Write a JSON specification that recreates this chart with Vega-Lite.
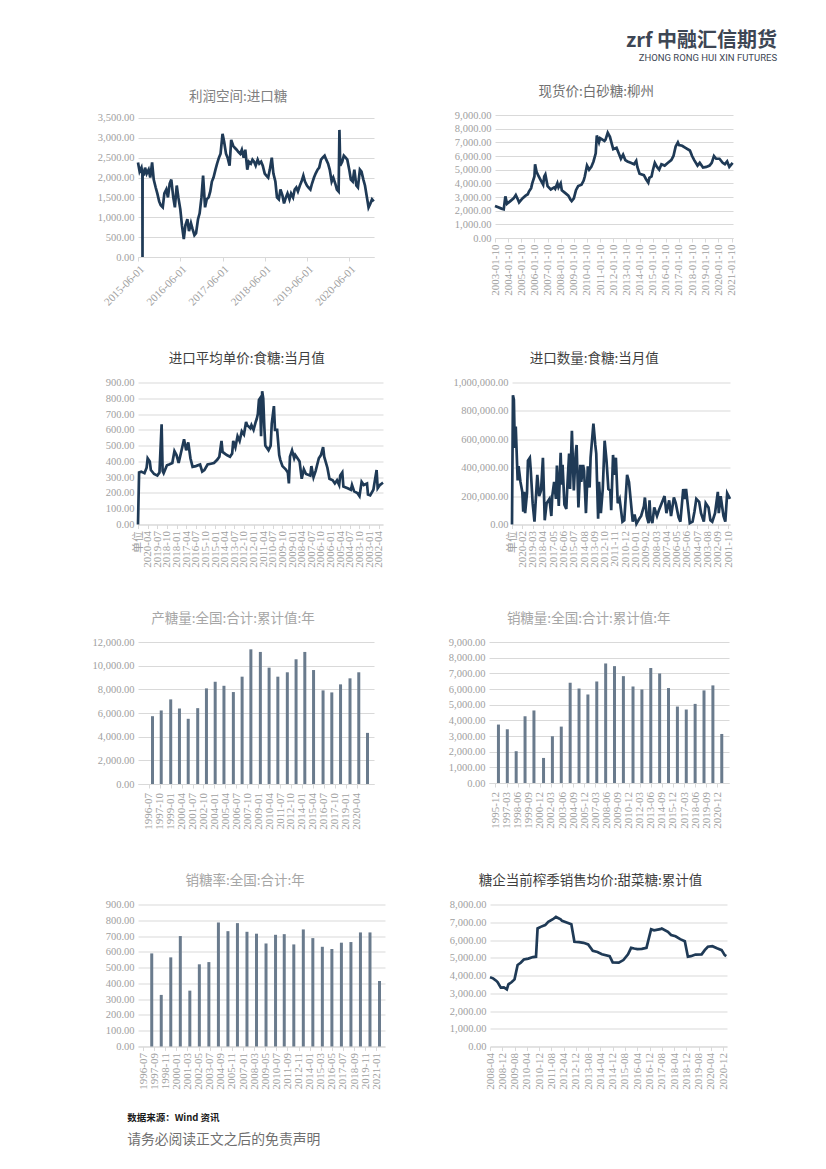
{
"$schema": "https://vega.github.io/schema/vega-lite/v6.json",
"padding": {"left": 92, "top": 30, "right": 0, "bottom": 0},
"title": {"text": "zrf 中融汇信期货", "subtitle": "ZHONG RONG HUI XIN FUTURES", "anchor": "end", "frame": "bounds", "dx": 39, "offset": 22.5, "fontSize": 20, "color": "#3d4654", "font": "Noto Sans CJK SC", "fontWeight": "bold", "subtitleFont": "Roboto", "subtitleFontSize": 9.5, "subtitleColor": "#3d4654", "subtitlePadding": 2},
"spacing": 43.5,
"datasets": {
"p1": [
{"d":"2015-06-01","v":2380},{"d":"2015-06-15","v":2150},{"d":"2015-07-01","v":2250},{"d":"2015-07-09","v":2100},{"d":"2015-07-10","v":0},{"d":"2015-07-11","v":2200},{"d":"2015-07-20","v":2050},{"d":"2015-08-01","v":2250},{"d":"2015-08-15","v":2100},{"d":"2015-09-01","v":2200},{"d":"2015-09-15","v":2000},{"d":"2015-10-01","v":2380},{"d":"2015-10-15","v":1950},{"d":"2015-11-01","v":1750},{"d":"2015-11-15","v":1600},{"d":"2015-12-01","v":1400},{"d":"2015-12-15","v":1300},
{"d":"2016-01-01","v":1250},{"d":"2016-01-15","v":1600},{"d":"2016-02-01","v":1700},{"d":"2016-02-15","v":1500},{"d":"2016-03-01","v":1850},{"d":"2016-03-15","v":1950},{"d":"2016-04-01","v":1500},{"d":"2016-04-15","v":1250},{"d":"2016-05-01","v":1800},{"d":"2016-05-15","v":1500},{"d":"2016-06-01","v":1200},{"d":"2016-06-15","v":800},{"d":"2016-07-01","v":450},{"d":"2016-07-15","v":800},{"d":"2016-08-01","v":950},{"d":"2016-08-15","v":650},{"d":"2016-09-01","v":850},{"d":"2016-09-15","v":700},{"d":"2016-10-01","v":550},{"d":"2016-10-15","v":600},{"d":"2016-11-01","v":950},{"d":"2016-11-15","v":1100},{"d":"2016-12-01","v":1500},{"d":"2016-12-15","v":2050},
{"d":"2017-01-01","v":1250},{"d":"2017-01-15","v":1450},{"d":"2017-02-01","v":1500},{"d":"2017-02-15","v":1650},{"d":"2017-03-01","v":1900},{"d":"2017-03-15","v":2000},{"d":"2017-04-01","v":2200},{"d":"2017-04-15","v":2350},{"d":"2017-05-01","v":2500},{"d":"2017-05-15","v":2600},{"d":"2017-06-01","v":3100},{"d":"2017-06-15","v":2900},{"d":"2017-07-01","v":2600},{"d":"2017-07-15","v":2500},{"d":"2017-08-01","v":2300},{"d":"2017-08-15","v":2950},{"d":"2017-09-01","v":2800},{"d":"2017-09-15","v":2750},{"d":"2017-10-01","v":2700},{"d":"2017-10-15","v":2650},{"d":"2017-11-01","v":2600},{"d":"2017-11-15","v":2700},{"d":"2017-12-01","v":2500},{"d":"2017-12-15","v":2700},
{"d":"2018-01-01","v":2200},{"d":"2018-01-15","v":2400},{"d":"2018-02-01","v":2350},{"d":"2018-02-15","v":2450},{"d":"2018-03-01","v":2400},{"d":"2018-03-15","v":2300},{"d":"2018-04-01","v":2450},{"d":"2018-04-15","v":2350},{"d":"2018-05-01","v":2400},{"d":"2018-05-15","v":2300},{"d":"2018-06-01","v":2100},{"d":"2018-06-15","v":2050},{"d":"2018-07-01","v":2000},{"d":"2018-07-15","v":2200},{"d":"2018-08-01","v":2500},{"d":"2018-08-15","v":2100},{"d":"2018-09-01","v":1900},{"d":"2018-09-15","v":1500},{"d":"2018-10-01","v":1450},{"d":"2018-10-15","v":1700},{"d":"2018-11-01","v":1550},{"d":"2018-11-15","v":1350},{"d":"2018-12-01","v":1500},{"d":"2018-12-15","v":1600},
{"d":"2019-01-01","v":1450},{"d":"2019-01-15","v":1600},{"d":"2019-02-01","v":1500},{"d":"2019-02-15","v":1700},{"d":"2019-03-01","v":1750},{"d":"2019-03-15","v":1650},{"d":"2019-04-01","v":1800},{"d":"2019-04-15","v":1900},{"d":"2019-05-01","v":2050},{"d":"2019-05-15","v":1900},{"d":"2019-06-01","v":1800},{"d":"2019-06-15","v":1750},{"d":"2019-07-01","v":1700},{"d":"2019-07-15","v":1850},{"d":"2019-08-01","v":2000},{"d":"2019-08-15","v":2100},{"d":"2019-09-01","v":2200},{"d":"2019-09-15","v":2250},{"d":"2019-10-01","v":2450},{"d":"2019-10-15","v":2500},{"d":"2019-11-01","v":2550},{"d":"2019-11-15","v":2450},{"d":"2019-12-01","v":2350},{"d":"2019-12-15","v":2200},
{"d":"2020-01-01","v":1900},{"d":"2020-01-15","v":2000},{"d":"2020-02-01","v":1850},{"d":"2020-02-15","v":1700},{"d":"2020-03-01","v":1650},{"d":"2020-03-08","v":3200},{"d":"2020-03-15","v":2300},{"d":"2020-04-01","v":2400},{"d":"2020-04-15","v":2550},{"d":"2020-05-01","v":2500},{"d":"2020-05-15","v":2450},{"d":"2020-06-01","v":2200},{"d":"2020-06-15","v":1950},{"d":"2020-07-01","v":1900},{"d":"2020-07-15","v":2200},{"d":"2020-08-01","v":1800},{"d":"2020-08-15","v":1750},{"d":"2020-09-01","v":2200},{"d":"2020-09-15","v":2150},{"d":"2020-10-01","v":1950},{"d":"2020-10-15","v":1800},{"d":"2020-11-01","v":1500},{"d":"2020-11-15","v":1250},{"d":"2020-12-01","v":1350},{"d":"2020-12-15","v":1450},{"d":"2020-12-30","v":1400}
],
"p2": [
{"d":"2003-01-10","v":2350},{"d":"2003-04-10","v":2250},{"d":"2003-07-10","v":2150},{"d":"2003-09-10","v":2100},{"d":"2003-10-25","v":3050},{"d":"2003-12-10","v":2500},{"d":"2004-03-10","v":2700},{"d":"2004-06-10","v":2900},{"d":"2004-08-10","v":3150},{"d":"2004-10-10","v":2800},{"d":"2004-11-10","v":2600},{"d":"2005-02-10","v":2900},{"d":"2005-05-10","v":3100},{"d":"2005-07-10","v":3200},{"d":"2005-08-10","v":3400},{"d":"2005-10-10","v":3650},{"d":"2005-11-10","v":4000},{"d":"2006-01-10","v":4500},{"d":"2006-01-28","v":5400},{"d":"2006-03-10","v":4850},{"d":"2006-05-10","v":4500},{"d":"2006-07-10","v":4200},{"d":"2006-09-10","v":3900},{"d":"2006-10-10","v":4500},{"d":"2006-11-10","v":4650},{"d":"2007-01-10","v":3800},{"d":"2007-04-10","v":3550},{"d":"2007-07-10","v":3700},{"d":"2007-08-10","v":3600},{"d":"2007-10-10","v":4000},{"d":"2007-11-10","v":3700},{"d":"2008-01-10","v":4000},{"d":"2008-02-10","v":3500},{"d":"2008-05-10","v":3300},{"d":"2008-08-10","v":3100},{"d":"2008-10-10","v":2800},{"d":"2008-11-10","v":2700},{"d":"2009-01-10","v":2900},{"d":"2009-03-10","v":3500},{"d":"2009-05-10","v":3800},{"d":"2009-08-10","v":3900},{"d":"2009-10-10","v":4200},{"d":"2009-11-10","v":4500},{"d":"2010-01-10","v":5300},{"d":"2010-03-10","v":5000},{"d":"2010-05-10","v":5200},{"d":"2010-07-10","v":5600},{"d":"2010-09-10","v":6200},{"d":"2010-10-10","v":7500},{"d":"2010-12-10","v":7000},{"d":"2011-01-10","v":7300},{"d":"2011-05-10","v":7100},{"d":"2011-06-10","v":7200},{"d":"2011-08-10","v":7700},{"d":"2011-10-10","v":7400},{"d":"2011-12-10","v":6800},{"d":"2012-01-10","v":6500},{"d":"2012-04-10","v":6600},{"d":"2012-06-10","v":6200},{"d":"2012-08-10","v":5800},{"d":"2012-10-10","v":6100},{"d":"2012-12-10","v":5700},{"d":"2013-02-10","v":5600},{"d":"2013-05-10","v":5500},{"d":"2013-08-10","v":5400},{"d":"2013-10-10","v":5650},{"d":"2013-11-10","v":5200},{"d":"2014-01-10","v":4700},{"d":"2014-05-10","v":4600},{"d":"2014-07-10","v":4300},{"d":"2014-09-10","v":4050},{"d":"2014-10-10","v":4400},{"d":"2014-12-10","v":4500},{"d":"2015-01-10","v":4900},{"d":"2015-03-10","v":5500},{"d":"2015-05-10","v":5200},{"d":"2015-07-10","v":5000},{"d":"2015-09-10","v":5400},{"d":"2015-12-10","v":5300},{"d":"2016-03-10","v":5500},{"d":"2016-06-10","v":5700},{"d":"2016-08-10","v":6000},{"d":"2016-10-10","v":6700},{"d":"2016-12-10","v":7000},{"d":"2017-01-10","v":6800},{"d":"2017-04-10","v":6750},{"d":"2017-07-10","v":6600},{"d":"2017-11-10","v":6400},{"d":"2018-01-10","v":6000},{"d":"2018-03-10","v":5700},{"d":"2018-06-10","v":5300},{"d":"2018-08-10","v":5500},{"d":"2018-11-10","v":5150},{"d":"2019-02-10","v":5200},{"d":"2019-05-10","v":5300},{"d":"2019-07-10","v":5500},{"d":"2019-09-10","v":6000},{"d":"2019-11-10","v":5800},{"d":"2020-02-10","v":5800},{"d":"2020-05-10","v":5500},{"d":"2020-07-10","v":5400},{"d":"2020-09-10","v":5600},{"d":"2020-11-10","v":5200},{"d":"2021-02-10","v":5500}
],
"p3": [
{"d":"2021-01-01","v":0},{"d":"2020-12-01","v":330},{"d":"2020-10-01","v":335},{"d":"2020-07-01","v":325},{"d":"2020-05-01","v":360},{"d":"2020-04-01","v":420},{"d":"2020-02-01","v":400},{"d":"2020-01-01","v":345},{"d":"2019-10-01","v":320},{"d":"2019-07-01","v":310},{"d":"2019-05-01","v":330},{"d":"2019-03-01","v":635},{"d":"2019-02-01","v":340},{"d":"2019-01-01","v":325},{"d":"2018-10-01","v":375},{"d":"2018-08-01","v":380},{"d":"2018-05-01","v":390},{"d":"2018-03-01","v":465},{"d":"2018-01-01","v":440},{"d":"2017-11-01","v":390},{"d":"2017-09-01","v":450},{"d":"2017-07-01","v":510},{"d":"2017-06-01","v":540},{"d":"2017-04-01","v":470},{"d":"2017-02-01","v":520},{"d":"2016-12-01","v":420},{"d":"2016-10-01","v":365},{"d":"2016-07-01","v":370},{"d":"2016-03-01","v":380},{"d":"2016-01-01","v":335},{"d":"2015-11-01","v":345},{"d":"2015-08-01","v":380},{"d":"2015-05-01","v":385},{"d":"2015-02-01","v":390},{"d":"2014-11-01","v":410},{"d":"2014-09-01","v":430},{"d":"2014-07-01","v":530},{"d":"2014-06-01","v":460},{"d":"2014-02-01","v":440},{"d":"2013-11-01","v":430},{"d":"2013-09-01","v":450},{"d":"2013-08-01","v":530},{"d":"2013-06-01","v":490},{"d":"2013-04-01","v":560},{"d":"2013-02-01","v":530},{"d":"2012-12-01","v":590},{"d":"2012-10-01","v":570},{"d":"2012-08-01","v":650},{"d":"2012-07-01","v":630},{"d":"2012-04-01","v":610},{"d":"2012-03-01","v":630},{"d":"2012-01-01","v":600},{"d":"2011-11-01","v":650},{"d":"2011-10-01","v":670},{"d":"2011-09-01","v":700},{"d":"2011-08-01","v":790},{"d":"2011-07-01","v":800},{"d":"2011-06-01","v":560},{"d":"2011-05-01","v":845},{"d":"2011-04-01","v":800},{"d":"2011-03-01","v":620},{"d":"2011-02-01","v":500},{"d":"2010-12-01","v":480},{"d":"2010-11-01","v":470},{"d":"2010-09-01","v":500},{"d":"2010-08-01","v":640},{"d":"2010-06-01","v":750},{"d":"2010-05-01","v":600},{"d":"2010-03-01","v":600},{"d":"2010-01-01","v":440},{"d":"2009-12-01","v":410},{"d":"2009-10-01","v":370},{"d":"2009-07-01","v":350},{"d":"2009-05-01","v":330},{"d":"2009-04-01","v":260},{"d":"2009-03-01","v":430},{"d":"2009-01-01","v":470},{"d":"2008-11-01","v":420},{"d":"2008-10-01","v":440},{"d":"2008-07-01","v":410},{"d":"2008-06-01","v":400},{"d":"2008-04-01","v":290},{"d":"2008-02-01","v":350},{"d":"2007-12-01","v":320},{"d":"2007-08-01","v":310},{"d":"2007-07-01","v":370},{"d":"2007-05-01","v":300},{"d":"2007-03-01","v":340},{"d":"2006-12-01","v":420},{"d":"2006-10-01","v":440},{"d":"2006-08-01","v":490},{"d":"2006-07-01","v":430},{"d":"2006-04-01","v":360},{"d":"2006-02-01","v":290},{"d":"2005-11-01","v":280},{"d":"2005-09-01","v":260},{"d":"2005-07-01","v":280},{"d":"2005-05-01","v":250},{"d":"2005-04-01","v":310},{"d":"2005-02-01","v":330},{"d":"2005-01-01","v":240},{"d":"2004-09-01","v":230},{"d":"2004-06-01","v":220},{"d":"2004-05-01","v":250},{"d":"2004-03-01","v":210},{"d":"2003-12-01","v":200},{"d":"2003-10-01","v":180},{"d":"2003-08-01","v":270},{"d":"2003-06-01","v":250},{"d":"2003-03-01","v":260},{"d":"2003-02-01","v":190},{"d":"2002-12-01","v":185},{"d":"2002-09-01","v":220},{"d":"2002-06-01","v":345},{"d":"2002-05-01","v":230},{"d":"2002-03-01","v":250},{"d":"2002-01-01","v":260},{"d":"2001-12-01","v":265}
],
"p4": [
{"d":"2021-01-01","v":0},{"d":"2020-12-01","v":910000},{"d":"2020-11-01","v":880000},{"d":"2020-10-01","v":540000},{"d":"2020-09-01","v":690000},{"d":"2020-07-01","v":310000},{"d":"2020-06-01","v":410000},{"d":"2020-04-01","v":300000},{"d":"2020-02-01","v":230000},{"d":"2020-01-01","v":90000},{"d":"2019-12-01","v":230000},{"d":"2019-11-01","v":80000},{"d":"2019-09-01","v":220000},{"d":"2019-08-01","v":450000},{"d":"2019-06-01","v":470000},{"d":"2019-05-01","v":380000},{"d":"2019-03-01","v":150000},{"d":"2019-01-01","v":20000},{"d":"2018-10-01","v":350000},{"d":"2018-08-01","v":200000},{"d":"2018-06-01","v":240000},{"d":"2018-04-01","v":470000},{"d":"2018-02-01","v":30000},{"d":"2017-12-01","v":150000},{"d":"2017-09-01","v":180000},{"d":"2017-07-01","v":60000},{"d":"2017-06-01","v":200000},{"d":"2017-04-01","v":300000},{"d":"2017-02-01","v":180000},{"d":"2017-01-01","v":415000},{"d":"2016-11-01","v":130000},{"d":"2016-09-01","v":505000},{"d":"2016-08-01","v":280000},{"d":"2016-07-01","v":420000},{"d":"2016-05-01","v":140000},{"d":"2016-03-01","v":110000},{"d":"2016-02-01","v":250000},{"d":"2015-12-01","v":500000},{"d":"2015-11-01","v":250000},{"d":"2015-09-01","v":660000},{"d":"2015-07-01","v":240000},{"d":"2015-05-01","v":500000},{"d":"2015-04-01","v":560000},{"d":"2015-02-01","v":120000},{"d":"2014-12-01","v":420000},{"d":"2014-11-01","v":300000},{"d":"2014-09-01","v":420000},{"d":"2014-08-01","v":380000},{"d":"2014-06-01","v":80000},{"d":"2014-04-01","v":410000},{"d":"2014-02-01","v":260000},{"d":"2014-01-01","v":470000},{"d":"2013-10-01","v":710000},{"d":"2013-08-01","v":560000},{"d":"2013-07-01","v":500000},{"d":"2013-05-01","v":40000},{"d":"2013-04-01","v":300000},{"d":"2013-02-01","v":80000},{"d":"2012-12-01","v":250000},{"d":"2012-10-01","v":590000},{"d":"2012-08-01","v":450000},{"d":"2012-06-01","v":250000},{"d":"2012-04-01","v":240000},{"d":"2012-03-01","v":100000},{"d":"2012-01-01","v":490000},{"d":"2011-12-01","v":350000},{"d":"2011-10-01","v":470000},{"d":"2011-08-01","v":150000},{"d":"2011-06-01","v":180000},{"d":"2011-03-01","v":20000},{"d":"2011-01-01","v":30000},{"d":"2010-10-01","v":350000},{"d":"2010-08-01","v":300000},{"d":"2010-04-01","v":20000},{"d":"2010-02-01","v":70000},{"d":"2009-12-01","v":5000},{"d":"2009-09-01","v":40000},{"d":"2009-07-01","v":60000},{"d":"2009-04-01","v":130000},{"d":"2009-03-01","v":190000},{"d":"2009-01-01","v":60000},{"d":"2008-11-01","v":10000},{"d":"2008-10-01","v":170000},{"d":"2008-09-01","v":50000},{"d":"2008-07-01","v":10000},{"d":"2008-05-01","v":120000},{"d":"2008-02-01","v":60000},{"d":"2007-12-01","v":100000},{"d":"2007-06-01","v":200000},{"d":"2007-04-01","v":80000},{"d":"2007-01-01","v":170000},{"d":"2006-11-01","v":60000},{"d":"2006-08-01","v":190000},{"d":"2006-06-01","v":150000},{"d":"2006-03-01","v":50000},{"d":"2006-01-01","v":20000},{"d":"2005-10-01","v":250000},{"d":"2005-08-01","v":180000},{"d":"2005-07-01","v":250000},{"d":"2005-05-01","v":130000},{"d":"2005-03-01","v":10000},{"d":"2004-12-01","v":20000},{"d":"2004-10-01","v":90000},{"d":"2004-08-01","v":180000},{"d":"2004-05-01","v":160000},{"d":"2004-03-01","v":80000},{"d":"2003-12-01","v":20000},{"d":"2003-10-01","v":150000},{"d":"2003-07-01","v":120000},{"d":"2003-05-01","v":30000},{"d":"2003-03-01","v":20000},{"d":"2002-12-01","v":80000},{"d":"2002-09-01","v":230000},{"d":"2002-08-01","v":80000},{"d":"2002-06-01","v":200000},{"d":"2002-03-01","v":60000},{"d":"2002-01-01","v":20000},{"d":"2001-11-01","v":220000},{"d":"2001-08-01","v":180000}
],
"p5": [
{"d":"1996-12-01","v":5730},{"d":"1997-12-01","v":6215},{"d":"1999-01-01","v":7150},{"d":"2000-01-01","v":6380},{"d":"2001-01-01","v":5510},{"d":"2002-02-01","v":6410},{"d":"2003-02-01","v":8080},{"d":"2004-02-01","v":8640},{"d":"2005-02-01","v":8300},{"d":"2006-03-01","v":7770},{"d":"2007-03-01","v":9070},{"d":"2008-03-01","v":11380},{"d":"2009-04-01","v":11160},{"d":"2010-04-01","v":9830},{"d":"2011-04-01","v":9070},{"d":"2012-05-01","v":9440},{"d":"2013-05-01","v":10540},{"d":"2014-05-01","v":11160},{"d":"2015-05-01","v":9630},{"d":"2016-06-01","v":7910},{"d":"2017-06-01","v":7740},{"d":"2018-06-01","v":8420},{"d":"2019-07-01","v":8930},{"d":"2020-07-01","v":9440},{"d":"2021-07-01","v":4320}
],
"p6": [
{"d":"1996-04-01","v":3730},{"d":"1997-04-01","v":3430},{"d":"1998-04-01","v":2030},{"d":"1999-04-01","v":4260},{"d":"2000-04-01","v":4630},{"d":"2001-05-01","v":1600},{"d":"2002-05-01","v":2990},{"d":"2003-05-01","v":3600},{"d":"2004-05-01","v":6400},{"d":"2005-05-01","v":6030},{"d":"2006-05-01","v":5650},{"d":"2007-05-01","v":6480},{"d":"2008-05-01","v":7630},{"d":"2009-05-01","v":7460},{"d":"2010-05-01","v":6820},{"d":"2011-06-01","v":6160},{"d":"2012-06-01","v":5970},{"d":"2013-06-01","v":7340},{"d":"2014-06-01","v":6990},{"d":"2015-06-01","v":6060},{"d":"2016-06-01","v":4880},{"d":"2017-06-01","v":4690},{"d":"2018-06-01","v":5050},{"d":"2019-06-01","v":5910},{"d":"2020-06-01","v":6230},{"d":"2021-06-01","v":3130}
],
"p7": [
{"d":"1997-06-01","v":590},{"d":"1998-06-01","v":327},{"d":"1999-06-01","v":565},{"d":"2000-06-01","v":700},{"d":"2001-06-01","v":354},{"d":"2002-06-01","v":521},{"d":"2003-06-01","v":535},{"d":"2004-06-01","v":786},{"d":"2005-06-01","v":731},{"d":"2006-06-01","v":782},{"d":"2007-06-01","v":727},{"d":"2008-06-01","v":715},{"d":"2009-06-01","v":653},{"d":"2010-06-01","v":708},{"d":"2011-05-01","v":712},{"d":"2012-05-01","v":647},{"d":"2013-05-01","v":742},{"d":"2014-05-01","v":687},{"d":"2015-05-01","v":632},{"d":"2016-05-01","v":618},{"d":"2017-05-01","v":658},{"d":"2018-05-01","v":662},{"d":"2019-05-01","v":723},{"d":"2020-05-01","v":723},{"d":"2021-05-01","v":415}
],
"p8": [
{"d":"2008-04-01","v":3900},{"d":"2008-06-01","v":3840},{"d":"2008-08-01","v":3710},{"d":"2008-09-01","v":3620},{"d":"2008-11-01","v":3320},{"d":"2009-01-01","v":3330},{"d":"2009-03-01","v":3220},{"d":"2009-04-01","v":3500},{"d":"2009-06-01","v":3620},{"d":"2009-08-01","v":3780},{"d":"2009-10-01","v":4590},{"d":"2009-12-01","v":4720},{"d":"2010-02-01","v":4900},{"d":"2010-05-01","v":4950},{"d":"2010-08-01","v":5040},{"d":"2010-10-01","v":5060},{"d":"2010-11-01","v":6650},{"d":"2011-01-01","v":6740},{"d":"2011-04-01","v":6840},{"d":"2011-06-01","v":7020},{"d":"2011-09-01","v":7170},{"d":"2011-11-01","v":7300},{"d":"2012-02-01","v":7170},{"d":"2012-03-01","v":7080},{"d":"2012-06-01","v":6990},{"d":"2012-09-01","v":6890},{"d":"2012-11-01","v":5900},{"d":"2013-02-01","v":5880},{"d":"2013-05-01","v":5840},{"d":"2013-08-01","v":5750},{"d":"2013-11-01","v":5390},{"d":"2014-02-01","v":5320},{"d":"2014-05-01","v":5200},{"d":"2014-10-01","v":5090},{"d":"2014-12-01","v":4740},{"d":"2015-04-01","v":4720},{"d":"2015-07-01","v":4870},{"d":"2015-10-01","v":5190},{"d":"2015-12-01","v":5560},{"d":"2016-02-01","v":5520},{"d":"2016-04-01","v":5490},{"d":"2016-07-01","v":5500},{"d":"2016-10-01","v":5560},{"d":"2017-01-01","v":6610},{"d":"2017-03-01","v":6550},{"d":"2017-07-01","v":6610},{"d":"2017-08-01","v":6650},{"d":"2017-12-01","v":6460},{"d":"2018-02-01","v":6280},{"d":"2018-05-01","v":6210},{"d":"2018-08-01","v":6050},{"d":"2018-11-01","v":5930},{"d":"2019-01-01","v":5060},{"d":"2019-03-01","v":5090},{"d":"2019-06-01","v":5180},{"d":"2019-10-01","v":5190},{"d":"2019-12-01","v":5430},{"d":"2020-02-01","v":5620},{"d":"2020-05-01","v":5650},{"d":"2020-08-01","v":5530},{"d":"2020-11-01","v":5430},{"d":"2021-01-01","v":5150},{"d":"2021-02-01","v":5090}
]
},
"vconcat": [
{
"spacing": 74,
"hconcat": [
{
"width": 236, "height": 142,
"title": {"text": "利润空间:进口糖", "color": "#808080", "dy": 3},
"data": {"name": "p1"},
"mark": {"type": "line", "color": "#1f3a56", "strokeWidth": 2.7},
"encoding": {
"x": {"field": "d", "type": "temporal", "title": null,
"scale": {"nice": false, "domain": [{"year":2015,"month":6,"date":1,"utc":true},{"year":2021,"month":1,"date":1,"utc":true}]},
"axis": {"labelAngle": -45, "labelExpr": "utcFormat(datum.value, '%Y-%m-%d')", "values": [{"year":2015,"month":6,"date":1,"utc":true},{"year":2016,"month":6,"date":1,"utc":true},{"year":2017,"month":6,"date":1,"utc":true},{"year":2018,"month":6,"date":1,"utc":true},{"year":2019,"month":6,"date":1,"utc":true},{"year":2020,"month":6,"date":1,"utc":true}]}},
"y": {"field": "v", "type": "quantitative", "title": null, "scale": {"domain": [0, 3575], "nice": false},
"axis": {"values": [0,500,1000,1500,2000,2500,3000,3500], "format": ",.2f"}}
}
},
{
"width": 238, "height": 123,
"title": {"text": "现货价:白砂糖:柳州", "color": "#707070"},
"data": {"name": "p2"},
"mark": {"type": "line", "color": "#1f3a56", "strokeWidth": 2.7},
"encoding": {
"x": {"field": "d", "type": "temporal", "title": null,
"scale": {"nice": false, "domain": [{"year":2003,"month":1,"date":10,"utc":true},{"year":2021,"month":2,"date":20,"utc":true}]},
"axis": {"labelExpr": "utcFormat(datum.value, '%Y-%m-%d')", "values": [{"year":2003,"month":1,"date":10,"utc":true},{"year":2004,"month":1,"date":10,"utc":true},{"year":2005,"month":1,"date":10,"utc":true},{"year":2006,"month":1,"date":10,"utc":true},{"year":2007,"month":1,"date":10,"utc":true},{"year":2008,"month":1,"date":10,"utc":true},{"year":2009,"month":1,"date":10,"utc":true},{"year":2010,"month":1,"date":10,"utc":true},{"year":2011,"month":1,"date":10,"utc":true},{"year":2012,"month":1,"date":10,"utc":true},{"year":2013,"month":1,"date":10,"utc":true},{"year":2014,"month":1,"date":10,"utc":true},{"year":2015,"month":1,"date":10,"utc":true},{"year":2016,"month":1,"date":10,"utc":true},{"year":2017,"month":1,"date":10,"utc":true},{"year":2018,"month":1,"date":10,"utc":true},{"year":2019,"month":1,"date":10,"utc":true},{"year":2020,"month":1,"date":10,"utc":true},{"year":2021,"month":1,"date":10,"utc":true}]}},
"y": {"field": "v", "type": "quantitative", "title": null, "scale": {"domain": [0, 9000], "nice": false},
"axis": {"values": [0,1000,2000,3000,4000,5000,6000,7000,8000,9000], "format": ",.2f"}}
}
}
]
},
{
"spacing": 63,
"hconcat": [
{
"width": 245, "height": 142,
"title": {"text": "进口平均单价:食糖:当月值", "color": "#3f3f3f"},
"data": {"name": "p3"},
"mark": {"type": "line", "color": "#1f3a56", "strokeWidth": 2.7},
"encoding": {
"x": {"field": "d", "type": "temporal", "title": null,
"scale": {"nice": false, "reverse": true, "domain": [{"year":2001,"month":12,"date":1,"utc":true},{"year":2021,"month":1,"date":1,"utc":true}]},
"axis": {"labelExpr": "utcyear(datum.value) == 2021 ? '单位' : utcFormat(datum.value, '%Y-%m')", "values": [{"year":2021,"month":1,"date":1,"utc":true},{"year":2020,"month":4,"date":1,"utc":true},{"year":2019,"month":7,"date":1,"utc":true},{"year":2018,"month":10,"date":1,"utc":true},{"year":2018,"month":1,"date":1,"utc":true},{"year":2017,"month":4,"date":1,"utc":true},{"year":2016,"month":7,"date":1,"utc":true},{"year":2015,"month":10,"date":1,"utc":true},{"year":2015,"month":1,"date":1,"utc":true},{"year":2014,"month":4,"date":1,"utc":true},{"year":2013,"month":7,"date":1,"utc":true},{"year":2012,"month":10,"date":1,"utc":true},{"year":2012,"month":1,"date":1,"utc":true},{"year":2011,"month":4,"date":1,"utc":true},{"year":2010,"month":7,"date":1,"utc":true},{"year":2009,"month":10,"date":1,"utc":true},{"year":2009,"month":1,"date":1,"utc":true},{"year":2008,"month":4,"date":1,"utc":true},{"year":2007,"month":7,"date":1,"utc":true},{"year":2006,"month":10,"date":1,"utc":true},{"year":2006,"month":1,"date":1,"utc":true},{"year":2005,"month":4,"date":1,"utc":true},{"year":2004,"month":7,"date":1,"utc":true},{"year":2003,"month":10,"date":1,"utc":true},{"year":2003,"month":1,"date":1,"utc":true},{"year":2002,"month":4,"date":1,"utc":true}]}},
"y": {"field": "v", "type": "quantitative", "title": null, "scale": {"domain": [0, 900], "nice": false},
"axis": {"values": [0,100,200,300,400,500,600,700,800,900], "format": ",.2f"}}
}
},
{
"width": 218, "height": 142,
"title": {"text": "进口数量:食糖:当月值", "color": "#3f3f3f"},
"data": {"name": "p4"},
"mark": {"type": "line", "color": "#1f3a56", "strokeWidth": 2.7},
"encoding": {
"x": {"field": "d", "type": "temporal", "title": null,
"scale": {"nice": false, "reverse": true, "domain": [{"year":2001,"month":8,"date":1,"utc":true},{"year":2021,"month":1,"date":1,"utc":true}]},
"axis": {"labelExpr": "utcyear(datum.value) == 2021 ? '单位' : utcFormat(datum.value, '%Y-%m')", "values": [{"year":2021,"month":1,"date":1,"utc":true},{"year":2020,"month":2,"date":1,"utc":true},{"year":2019,"month":3,"date":1,"utc":true},{"year":2018,"month":4,"date":1,"utc":true},{"year":2017,"month":5,"date":1,"utc":true},{"year":2016,"month":6,"date":1,"utc":true},{"year":2015,"month":7,"date":1,"utc":true},{"year":2014,"month":8,"date":1,"utc":true},{"year":2013,"month":9,"date":1,"utc":true},{"year":2012,"month":10,"date":1,"utc":true},{"year":2011,"month":11,"date":1,"utc":true},{"year":2010,"month":12,"date":1,"utc":true},{"year":2010,"month":1,"date":1,"utc":true},{"year":2009,"month":2,"date":1,"utc":true},{"year":2008,"month":3,"date":1,"utc":true},{"year":2007,"month":4,"date":1,"utc":true},{"year":2006,"month":5,"date":1,"utc":true},{"year":2005,"month":6,"date":1,"utc":true},{"year":2004,"month":7,"date":1,"utc":true},{"year":2003,"month":8,"date":1,"utc":true},{"year":2002,"month":9,"date":1,"utc":true},{"year":2001,"month":10,"date":1,"utc":true}]}},
"y": {"field": "v", "type": "quantitative", "title": null, "scale": {"domain": [0, 1000000], "nice": false},
"axis": {"values": [0,200000,400000,600000,800000,1000000], "format": ",.2f"}}
}
}
]
},
{
"spacing": 74,
"hconcat": [
{
"width": 236, "height": 142,
"title": {"text": "产糖量:全国:合计:累计值:年", "color": "#a6a6a6"},
"data": {"name": "p5"},
"mark": {"type": "bar", "color": "#6a7b8d", "size": 3},
"encoding": {
"x": {"field": "d", "type": "temporal", "title": null,
"scale": {"nice": false, "domain": [{"year":1995,"month":11,"date":1,"utc":true},{"year":2021,"month":9,"date":1,"utc":true}]},
"axis": {"labelPadding": 4.5, "labelExpr": "utcFormat(datum.value, '%Y-%m')", "values": [{"year":1996,"month":7,"date":1,"utc":true},{"year":1997,"month":10,"date":1,"utc":true},{"year":1999,"month":1,"date":1,"utc":true},{"year":2000,"month":4,"date":1,"utc":true},{"year":2001,"month":7,"date":1,"utc":true},{"year":2002,"month":10,"date":1,"utc":true},{"year":2004,"month":1,"date":1,"utc":true},{"year":2005,"month":4,"date":1,"utc":true},{"year":2006,"month":7,"date":1,"utc":true},{"year":2007,"month":10,"date":1,"utc":true},{"year":2009,"month":1,"date":1,"utc":true},{"year":2010,"month":4,"date":1,"utc":true},{"year":2011,"month":7,"date":1,"utc":true},{"year":2012,"month":10,"date":1,"utc":true},{"year":2014,"month":1,"date":1,"utc":true},{"year":2015,"month":4,"date":1,"utc":true},{"year":2016,"month":7,"date":1,"utc":true},{"year":2017,"month":10,"date":1,"utc":true},{"year":2019,"month":1,"date":1,"utc":true},{"year":2020,"month":4,"date":1,"utc":true}]}},
"y": {"field": "v", "type": "quantitative", "title": null, "scale": {"domain": [0, 12000], "nice": false},
"axis": {"values": [0,2000,4000,6000,8000,10000,12000], "format": ",.2f"}}
}
},
{
"width": 240, "height": 141,
"title": {"text": "销糖量:全国:合计:累计值:年", "color": "#a6a6a6"},
"data": {"name": "p6"},
"mark": {"type": "bar", "color": "#6a7b8d", "size": 3},
"encoding": {
"x": {"field": "d", "type": "temporal", "title": null,
"scale": {"nice": false, "domain": [{"year":1995,"month":10,"date":1,"utc":true},{"year":2021,"month":9,"date":1,"utc":true}]},
"axis": {"labelPadding": 4.5, "labelExpr": "utcFormat(datum.value, '%Y-%m')", "values": [{"year":1995,"month":12,"date":1,"utc":true},{"year":1997,"month":3,"date":1,"utc":true},{"year":1998,"month":6,"date":1,"utc":true},{"year":1999,"month":9,"date":1,"utc":true},{"year":2000,"month":12,"date":1,"utc":true},{"year":2002,"month":3,"date":1,"utc":true},{"year":2003,"month":6,"date":1,"utc":true},{"year":2004,"month":9,"date":1,"utc":true},{"year":2005,"month":12,"date":1,"utc":true},{"year":2007,"month":3,"date":1,"utc":true},{"year":2008,"month":6,"date":1,"utc":true},{"year":2009,"month":9,"date":1,"utc":true},{"year":2010,"month":12,"date":1,"utc":true},{"year":2012,"month":3,"date":1,"utc":true},{"year":2013,"month":6,"date":1,"utc":true},{"year":2014,"month":9,"date":1,"utc":true},{"year":2015,"month":12,"date":1,"utc":true},{"year":2017,"month":3,"date":1,"utc":true},{"year":2018,"month":6,"date":1,"utc":true},{"year":2019,"month":9,"date":1,"utc":true},{"year":2020,"month":12,"date":1,"utc":true}]}},
"y": {"field": "v", "type": "quantitative", "title": null, "scale": {"domain": [0, 9000], "nice": false},
"axis": {"values": [0,1000,2000,3000,4000,5000,6000,7000,8000,9000], "format": ",.2f"}}
}
}
]
},
{
"spacing": 64,
"title": {"text": "数据来源：Wind 资讯", "subtitle": "请务必阅读正文之后的免责声明", "orient": "bottom", "anchor": "start", "frame": "bounds", "dx": 22, "offset": 24, "fontSize": 9.5, "color": "#1a1a1a", "fontWeight": "bold", "font": "Noto Sans CJK SC", "subtitleFont": "Noto Sans CJK SC", "subtitleFontSize": 13.8, "subtitleColor": "#6f6f6f", "subtitlePadding": 10},
"hconcat": [
{
"width": 247, "height": 142,
"title": {"text": "销糖率:全国:合计:年", "color": "#a6a6a6"},
"data": {"name": "p7"},
"mark": {"type": "bar", "color": "#6a7b8d", "size": 3},
"encoding": {
"x": {"field": "d", "type": "temporal", "title": null,
"scale": {"nice": false, "domain": [{"year":1996,"month":7,"date":1,"utc":true},{"year":2021,"month":5,"date":20,"utc":true}]},
"axis": {"labelExpr": "utcFormat(datum.value, '%Y-%m')", "values": [{"year":1996,"month":7,"date":1,"utc":true},{"year":1997,"month":9,"date":1,"utc":true},{"year":1998,"month":11,"date":1,"utc":true},{"year":2000,"month":1,"date":1,"utc":true},{"year":2001,"month":3,"date":1,"utc":true},{"year":2002,"month":5,"date":1,"utc":true},{"year":2003,"month":7,"date":1,"utc":true},{"year":2004,"month":9,"date":1,"utc":true},{"year":2005,"month":11,"date":1,"utc":true},{"year":2007,"month":1,"date":1,"utc":true},{"year":2008,"month":3,"date":1,"utc":true},{"year":2009,"month":5,"date":1,"utc":true},{"year":2010,"month":7,"date":1,"utc":true},{"year":2011,"month":9,"date":1,"utc":true},{"year":2012,"month":11,"date":1,"utc":true},{"year":2014,"month":1,"date":1,"utc":true},{"year":2015,"month":3,"date":1,"utc":true},{"year":2016,"month":5,"date":1,"utc":true},{"year":2017,"month":7,"date":1,"utc":true},{"year":2018,"month":9,"date":1,"utc":true},{"year":2019,"month":11,"date":1,"utc":true},{"year":2021,"month":1,"date":1,"utc":true}]}},
"y": {"field": "v", "type": "quantitative", "title": null, "scale": {"domain": [0, 900], "nice": false},
"axis": {"values": [0,100,200,300,400,500,600,700,800,900], "format": ",.2f"}}
}
},
{
"width": 237, "height": 142,
"title": {"text": "糖企当前榨季销售均价:甜菜糖:累计值", "color": "#3f3f3f"},
"data": {"name": "p8"},
"mark": {"type": "line", "color": "#1f3a56", "strokeWidth": 2.7},
"encoding": {
"x": {"field": "d", "type": "temporal", "title": null,
"scale": {"nice": false, "domain": [{"year":2008,"month":4,"date":1,"utc":true},{"year":2021,"month":2,"date":15,"utc":true}]},
"axis": {"labelExpr": "utcFormat(datum.value, '%Y-%m')", "values": [{"year":2008,"month":4,"date":1,"utc":true},{"year":2008,"month":12,"date":1,"utc":true},{"year":2009,"month":8,"date":1,"utc":true},{"year":2010,"month":4,"date":1,"utc":true},{"year":2010,"month":12,"date":1,"utc":true},{"year":2011,"month":8,"date":1,"utc":true},{"year":2012,"month":4,"date":1,"utc":true},{"year":2012,"month":12,"date":1,"utc":true},{"year":2013,"month":8,"date":1,"utc":true},{"year":2014,"month":4,"date":1,"utc":true},{"year":2014,"month":12,"date":1,"utc":true},{"year":2015,"month":8,"date":1,"utc":true},{"year":2016,"month":4,"date":1,"utc":true},{"year":2016,"month":12,"date":1,"utc":true},{"year":2017,"month":8,"date":1,"utc":true},{"year":2018,"month":4,"date":1,"utc":true},{"year":2018,"month":12,"date":1,"utc":true},{"year":2019,"month":8,"date":1,"utc":true},{"year":2020,"month":4,"date":1,"utc":true},{"year":2020,"month":12,"date":1,"utc":true}]}},
"y": {"field": "v", "type": "quantitative", "title": null, "scale": {"domain": [0, 8000], "nice": false},
"axis": {"values": [0,1000,2000,3000,4000,5000,6000,7000,8000], "format": ",.2f"}}
}
}
]
}
],
"config": {
"view": {"stroke": null},
"font": "Noto Sans CJK SC",
"axis": {"labelFont": "Liberation Serif, Noto Sans CJK SC", "labelFontSize": 10.5, "labelColor": "#a0a0a0", "gridColor": "#d9d9d9", "gridWidth": 1, "domainColor": "#d9d9d9", "tickColor": "#d9d9d9", "labelOverlap": false, "labelFlush": false},
"axisX": {"grid": false, "tickSize": 4, "labelAngle": -90, "labelPadding": 2, "labelFontSize": 11},
"axisY": {"domain": false, "ticks": false, "grid": true, "labelPadding": 4},
"title": {"font": "Noto Sans CJK SC", "fontSize": 13.5, "fontWeight": "normal", "offset": 12, "frame": "bounds"}
}
}
